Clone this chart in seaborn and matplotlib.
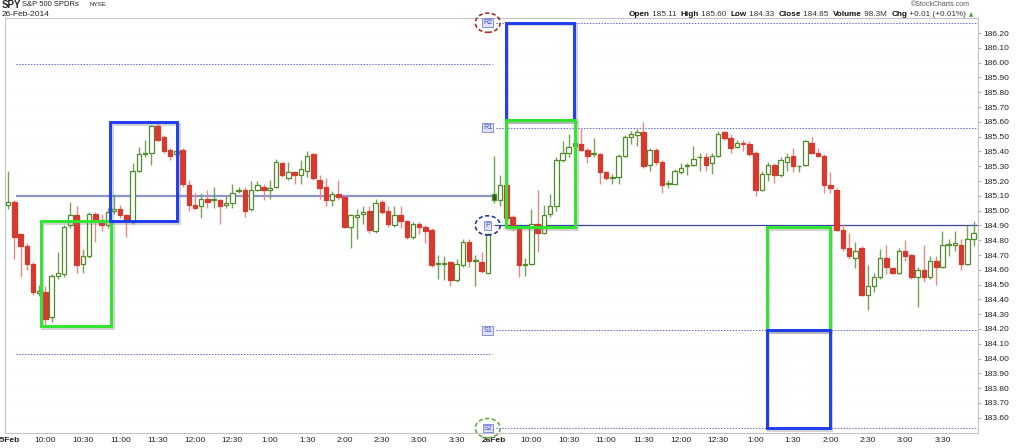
import numpy as np
import seaborn as sns
import matplotlib.pyplot as plt
from matplotlib.patches import Rectangle, Ellipse
from matplotlib import patheffects as pe

# SPY 5-minute bars, 25 Feb 2014 (78 bars) followed by 26 Feb 2014 (78 bars)
opens = [
    185.04, 185.06, 184.84, 184.76, 184.64, 184.44, 184.45, 184.28, 184.56, 184.57,
    184.90, 184.97, 184.64, 184.69, 184.98, 184.94, 184.90, 185.00, 185.01, 184.97,
    184.92, 185.27, 185.38, 185.39, 185.57, 185.50, 185.41, 185.38, 185.41, 185.17,
    185.04, 185.03, 185.08, 185.07, 185.07, 185.04, 185.05, 185.13, 185.14, 185.01,
    185.14, 185.16, 185.14, 185.16, 185.32, 185.22, 185.26, 185.24, 185.27, 185.38,
    185.21, 185.16, 185.07, 185.11, 185.09, 184.89, 184.96, 184.98, 185.00, 184.86,
    185.06, 185.00, 184.90, 184.97, 184.93, 184.82, 184.91, 184.89, 184.87, 184.64,
    184.64, 184.65, 184.53, 184.63, 184.79, 184.66, 184.65, 184.58,
    185.11, 185.07, 185.17, 184.96, 184.88, 184.63, 184.64, 184.91, 184.85, 184.98,
    185.03, 185.34, 185.39, 185.44, 185.45, 185.41, 185.38, 185.38, 185.26, 185.22,
    185.23, 185.37, 185.50, 185.51, 185.53, 185.31, 185.41, 185.33, 185.18, 185.18,
    185.26, 185.30, 185.31, 185.36, 185.36, 185.32, 185.37, 185.53, 185.49, 185.43,
    185.46, 185.45, 185.39, 185.14, 185.25, 185.31, 185.24, 185.33, 185.37, 185.30,
    185.31, 185.46, 185.39, 185.37, 185.17, 185.14, 184.87, 184.75, 184.68, 184.75,
    184.43, 184.49, 184.55, 184.68, 184.61, 184.58, 184.73, 184.70, 184.55, 184.60,
    184.55, 184.66, 184.62, 184.77, 184.77, 184.77, 184.64, 184.81,
]
highs = [
    185.27, 185.07, 184.85, 184.78, 184.65, 184.50, 184.49, 184.57, 184.72, 184.90,
    185.06, 185.03, 184.74, 184.99, 184.99, 184.98, 185.02, 185.11, 185.04, 184.98,
    185.32, 185.43, 185.48, 185.58, 185.60, 185.51, 185.42, 185.41, 185.42, 185.21,
    185.12, 185.12, 185.14, 185.16, 185.08, 185.10, 185.18, 185.16, 185.16, 185.20,
    185.20, 185.18, 185.21, 185.35, 185.33, 185.33, 185.27, 185.34, 185.40, 185.39,
    185.24, 185.22, 185.13, 185.21, 185.10, 184.98, 185.01, 185.03, 185.03, 185.08,
    185.07, 185.03, 185.03, 185.03, 184.94, 184.92, 184.92, 184.90, 184.88, 184.70,
    184.69, 184.66, 184.67, 184.81, 184.81, 184.70, 184.72, 184.85,
    185.37, 185.24, 185.18, 184.97, 184.89, 184.68, 185.01, 185.14, 185.04, 185.11,
    185.36, 185.47, 185.52, 185.52, 185.56, 185.42, 185.49, 185.39, 185.27, 185.25,
    185.38, 185.51, 185.54, 185.55, 185.60, 185.42, 185.42, 185.34, 185.21, 185.28,
    185.32, 185.32, 185.44, 185.39, 185.39, 185.39, 185.54, 185.54, 185.52, 185.48,
    185.48, 185.47, 185.40, 185.27, 185.33, 185.32, 185.36, 185.39, 185.42, 185.31,
    185.48, 185.50, 185.42, 185.38, 185.26, 185.15, 184.91, 184.85, 184.79, 184.76,
    184.63, 184.58, 184.74, 184.77, 184.62, 184.75, 184.80, 184.71, 184.62, 184.77,
    184.69, 184.69, 184.86, 184.81, 184.86, 184.81, 184.90, 184.93,
]
lows = [
    185.01, 184.67, 184.55, 184.60, 184.43, 184.42, 184.23, 184.25, 184.54, 184.55,
    184.88, 184.58, 184.58, 184.68, 184.79, 184.86, 184.88, 184.98, 184.95, 184.82,
    184.91, 185.26, 185.36, 185.31, 185.47, 185.39, 185.34, 185.37, 185.16, 185.00,
    185.01, 184.95, 185.02, 185.02, 184.91, 185.02, 185.02, 185.12, 184.96, 185.00,
    185.13, 185.07, 185.08, 185.15, 185.23, 185.21, 185.18, 185.18, 185.23, 185.21,
    185.08, 185.03, 185.03, 185.07, 184.88, 184.75, 184.81, 184.91, 184.85, 184.85,
    184.98, 184.89, 184.89, 184.88, 184.81, 184.81, 184.84, 184.78, 184.62, 184.54,
    184.53, 184.49, 184.52, 184.62, 184.62, 184.49, 184.58, 184.57,
    185.05, 185.03, 184.94, 184.86, 184.55, 184.56, 184.63, 184.72, 184.84, 184.96,
    185.00, 185.33, 185.36, 185.43, 185.40, 185.32, 185.36, 185.18, 185.21, 185.18,
    185.18, 185.36, 185.45, 185.44, 185.29, 185.27, 185.31, 185.12, 185.15, 185.17,
    185.25, 185.24, 185.30, 185.27, 185.27, 185.25, 185.36, 185.48, 185.39, 185.42,
    185.40, 185.37, 185.10, 185.13, 185.20, 185.19, 185.23, 185.27, 185.26, 185.26,
    185.30, 185.38, 185.36, 185.12, 185.12, 184.86, 184.73, 184.67, 184.61, 184.42,
    184.33, 184.45, 184.54, 184.57, 184.57, 184.57, 184.66, 184.54, 184.35, 184.52,
    184.54, 184.50, 184.61, 184.69, 184.73, 184.60, 184.63, 184.76,
]
closes = [
    185.06, 184.82, 184.76, 184.64, 184.45, 184.46, 184.27, 184.56, 184.58, 184.89,
    184.97, 184.63, 184.69, 184.98, 184.93, 184.90, 184.99, 185.01, 184.97, 184.93,
    185.27, 185.38, 185.39, 185.57, 185.48, 185.40, 185.37, 185.40, 185.18, 185.04,
    185.02, 185.08, 185.06, 185.08, 185.03, 185.05, 185.12, 185.14, 185.00, 185.14,
    185.17, 185.14, 185.15, 185.33, 185.24, 185.26, 185.24, 185.28, 185.37, 185.22,
    185.15, 185.07, 185.11, 185.09, 184.89, 184.97, 184.97, 184.99, 184.87, 185.05,
    184.99, 184.91, 184.97, 184.93, 184.82, 184.91, 184.89, 184.86, 184.63, 184.64,
    184.64, 184.53, 184.64, 184.79, 184.66, 184.66, 184.59, 184.84,
    185.07, 185.17, 184.95, 184.88, 184.63, 184.64, 184.91, 184.85, 184.97, 185.03,
    185.34, 185.39, 185.43, 185.46, 185.41, 185.37, 185.39, 185.26, 185.22, 185.23,
    185.37, 185.50, 185.52, 185.53, 185.30, 185.41, 185.33, 185.17, 185.19, 185.27,
    185.29, 185.31, 185.35, 185.36, 185.31, 185.37, 185.52, 185.49, 185.42, 185.46,
    185.45, 185.38, 185.14, 185.25, 185.31, 185.24, 185.34, 185.36, 185.30, 185.30,
    185.47, 185.39, 185.37, 185.17, 185.15, 184.87, 184.75, 184.69, 184.73, 184.43,
    184.49, 184.55, 184.68, 184.62, 184.58, 184.73, 184.69, 184.55, 184.60, 184.55,
    184.66, 184.62, 184.77, 184.77, 184.78, 184.64, 184.81, 184.85,
]

bars_per_day = 78
day_labels = ["25Feb", "26Feb"]
time_labels = ["10:00", "10:30", "11:00", "11:30", "12:00", "12:30",
               "1:00", "1:30", "2:00", "2:30", "3:00", "3:30"]
price_ticks = [183.6, 183.7, 183.8, 183.9, 184.0, 184.1, 184.2, 184.3, 184.4,
               184.5, 184.6, 184.7, 184.8, 184.9, 185.0, 185.1, 185.2, 185.3,
               185.4, 185.5, 185.6, 185.7, 185.8, 185.9, 186.0, 186.1, 186.2]

# floor pivot levels for each session
feb25_levels = {"R1": 185.99, "P": 185.10, "S1": 184.03}
feb26_levels = {"R2": 186.27, "R1": 185.56, "P": 184.90, "S1": 184.19, "S2": 183.53}
circled = {"R2": "#a2302c", "P": "#263a8c", "S2": "#6aae48"}

# highlight boxes: first bar, last bar, low, high, colour
boxes = [
    (5.25, 16.5, 184.22, 184.93, "green"),
    (16.4, 27.1, 184.93, 185.60, "blue"),
    (79.9, 90.9, 185.61, 186.27, "blue"),
    (79.9, 91.0, 184.89, 185.61, "green"),
    (121.8, 131.9, 184.19, 184.89, "green"),
    (121.8, 131.9, 183.53, 184.19, "blue"),
]

header = [("Open", True), (" 185.11  ", False), ("High", True), (" 185.60  ", False),
          ("Low", True), (" 184.33  ", False), ("Close", True), (" 184.85  ", False),
          ("Volume", True), (" 98.3M  ", False), ("Chg", True), (" +0.01 (+0.01%)", False)]

sns.set_theme(style="white")
plt.rcParams["font.family"] = ["Liberation Sans", "DejaVu Sans"]

GREEN = "#4f8a2b"
GREEN_WICK = "#77a057"
GREEN_FILL = "#2f5a19"
RED = "#d8392e"
RED_WICK = "#e58a82"
BOX_COL = {"green": "#2ee62e", "blue": "#1e3cf0"}

W, H = 1024, 448
fig = plt.figure(figsize=(W / 100, H / 100), dpi=100)
ax = fig.add_axes([5 / W, (H - 433.3) / H, 973 / W, 415 / H])

o = np.array(opens)
h = np.array(highs)
l = np.array(lows)
c = np.array(closes)
x = np.arange(len(o))
prev = np.r_[o[0], c[:-1]]

up = c >= prev
hollow = c > o
wick_cols = [GREEN_WICK if u else RED_WICK for u in up]
edge_cols = [GREEN if u else RED for u in up]
face_cols = []
for u, hl in zip(up, hollow):
    if hl:
        face_cols.append("white")
    else:
        face_cols.append(GREEN_FILL if u else RED)

ax.vlines(x, l, h, colors=wick_cols, lw=1.0, zorder=2)
body_lo = np.minimum(o, c)
body_h = np.maximum(np.abs(c - o), 0.004)
ax.bar(x, body_h, bottom=body_lo, width=0.72, color=face_cols,
       edgecolor=edge_cols, linewidth=0.9, zorder=3)

# pivot lines
x_end = 155.7
for name, lvl in feb25_levels.items():
    if name == "P":
        ax.hlines(lvl, 1.2, 77.6, color="#8c95cf", lw=1.6, zorder=1)
    else:
        ax.hlines(lvl, 1.2, 77.6, color="#5d6cd2", lw=0.7, ls=(0, (1.5, 1.5)), zorder=1)

label_x = 77.0
for name, lvl in feb26_levels.items():
    if name == "P":
        ax.hlines(lvl, 78.0, x_end, color="#3545a5", lw=0.9, zorder=1)
    else:
        ax.hlines(lvl, 78.3, x_end, color="#5d6cd2", lw=0.7, ls=(0, (1.5, 1.5)), zorder=1)
    ax.text(label_x, lvl, name, ha="center", va="center", fontsize=5.2, color="#3b4cc0",
            zorder=6, clip_on=False,
            bbox=dict(boxstyle="square,pad=0.12", fc="#dfe2f7", ec="#7482d8", lw=0.6))
    if name in circled:
        ax.add_patch(Ellipse((label_x, lvl), 4.0, 0.13, fill=False, ec=circled[name],
                             lw=1.2, ls=(0, (2.5, 1.5)), zorder=6, clip_on=False))

shadow = [pe.SimpleLineShadow(offset=(1.2, -1.2), shadow_color="gray", alpha=0.35), pe.Normal()]
for x0, x1, lo, hi, col in boxes:
    r = Rectangle((x0, lo), x1 - x0, hi - lo, fill=False, ec=BOX_COL[col], lw=2.1,
                  zorder=5, clip_on=False)
    r.set_path_effects(shadow)
    ax.add_patch(r)

ax.set_xlim(-0.5, x_end)
ax.set_ylim(183.495, 186.30)

xt, xl = [], []
for d, lab in enumerate(day_labels):
    xt.append(d * bars_per_day)
    xl.append(lab)
    for k, t in enumerate(time_labels):
        xt.append(d * bars_per_day + 6 * (k + 1))
        xl.append(t)
ax.set_xticks(xt)
ax.set_xticklabels(xl, fontsize=6, color="#222222")
for t in ax.get_xticklabels():
    if t.get_text() in day_labels:
        t.set_fontweight("bold")
ax.tick_params(axis="x", length=0, pad=3)

ax.yaxis.tick_right()
ax.set_yticks(price_ticks)
ax.set_yticklabels([f"{v:.2f}" for v in price_ticks], fontsize=6, color="#222222")
ax.tick_params(axis="y", length=2, width=0.5, pad=2, color="#888888", right=True)
ax.grid(axis="y", color="#f0f0f0", lw=0.5, ls=(0, (1, 2)))
for s in ax.spines.values():
    s.set_color("#c4c4c4")
    s.set_linewidth(0.8)

# header
fig.text(2 / W, 1 - 0.5 / H, "SPY", fontsize=7, fontweight="bold", va="top", ha="left")
fig.text(22 / W, 1 - 5 / H, "S&P 500 SPDRs", fontsize=5.5, va="center", ha="left", color="#222222")
fig.text(89 / W, 1 - 5 / H, "NYSE", fontsize=4.5, va="center", ha="left", color="#222222")
fig.text(2 / W, 1 - 14.5 / H, "26-Feb-2014", fontsize=6, va="center", ha="left", color="#222222")
fig.text(970 / W, 1 - 5 / H, "\u00a9StockCharts.com", fontsize=5, va="center", ha="right", color="#555555")

renderer = fig.canvas.get_renderer()
xr = 966.0
for txt, bold in reversed(header):
    t = fig.text(xr / W, 1 - 14.3 / H, txt, fontsize=5.85, va="center", ha="right",
                 fontweight="bold" if bold else "normal", color="#111111" if bold else "#333333")
    xr -= t.get_window_extent(renderer).width
fig.text(969 / W, 1 - 14.5 / H, "\u25b2", fontsize=4, va="center", ha="left",
         color="#3c9a3c", family="DejaVu Sans")

fig.savefig("out.png", dpi=100)
